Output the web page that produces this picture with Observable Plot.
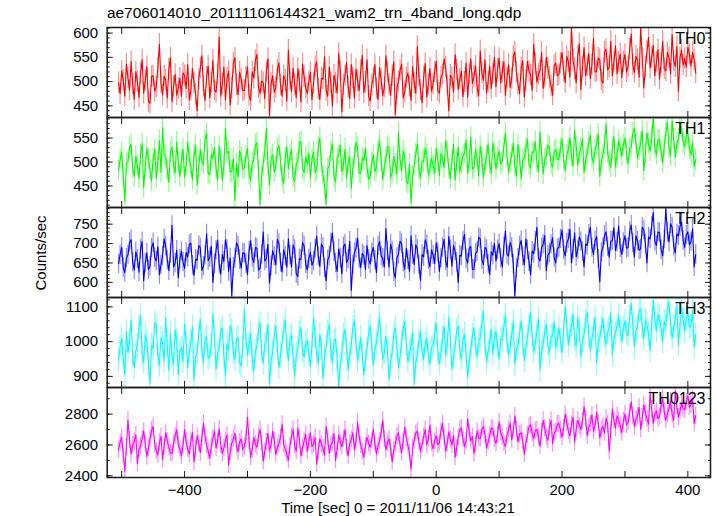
<!DOCTYPE html>
<html><head><meta charset="utf-8">
<script src="https://cdn.jsdelivr.net/npm/d3@7"></script>
<script src="https://cdn.jsdelivr.net/npm/@observablehq/plot@0.6"></script>
<style>
body{margin:0;background:#fff;}
#chart{position:relative;width:717px;height:516px;font-family:"Liberation Sans",Arial,sans-serif;color:#000;overflow:hidden;}
#chart svg{position:absolute;left:0;overflow:visible;}
#title{position:absolute;left:107px;top:4px;font-size:15.4px;white-space:nowrap;}
#ylab{position:absolute;left:40px;top:253px;font-size:15px;white-space:nowrap;transform:translate(-50%,-50%) rotate(-90deg);}
#xlab{position:absolute;left:398px;top:499px;font-size:15px;white-space:nowrap;transform:translateX(-50%);}
</style></head>
<body>
<div id="chart">
<div id="title"></div>
<div id="ylab"></div>
<div id="xlab"></div>
</div>
<script>
// ---- data (time bins: tStart + index * tStep seconds) ----
const tStart = -505, tStep = 2.5;
const th0 = [
498,475,522,503,470,536,508,482,541,495,463,520,500,468,517,545,476,502,531,459,455,510,512,480,489,528,577,497,472,511,503,466,526,549,458,490,515,472,486,507,
470,518,512,486,535,462,482,527,497,474,440,505,528,553,490,461,509,532,466,498,544,483,478,515,592,470,495,530,462,507,521,452,487,538,549,494,473,519,505,481,
482,509,530,471,461,520,507,543,556,488,476,501,498,465,521,547,430,496,512,478,488,524,538,493,470,512,503,460,565,505,479,528,494,467,527,501,458,536,510,487,
475,500,519,462,496,531,541,485,463,507,505,551,482,470,530,498,450,513,497,476,558,520,438,493,512,539,489,465,535,508,466,526,501,481,523,554,477,499,545,470,
460,493,508,535,486,463,529,504,471,488,553,519,494,472,512,541,432,485,500,523,536,467,479,508,518,490,461,531,497,476,572,512,483,456,509,537,468,495,527,480,
495,520,542,481,476,509,515,547,530,492,440,513,508,478,556,524,484,505,521,469,499,538,468,516,547,496,511,532,488,471,563,518,503,545,476,499,532,486,517,550,
489,526,548,497,520,541,472,508,535,488,506,552,561,519,495,475,528,543,468,503,542,521,514,482,577,536,499,515,523,560,486,509,550,527,509,491,472,533,538,512,
515,538,560,521,498,552,541,509,611,544,526,497,553,578,484,530,570,512,532,558,506,535,589,520,521,549,545,503,497,561,566,524,530,583,512,541,574,516,540,557,
508,541,556,520,531,567,598,535,519,552,545,509,611,548,487,530,562,591,528,550,575,512,540,566,505,538,583,527,522,560,550,516,597,543,531,572,480,549,565,534,
548,530,571,556,532,560,545,518];
const th1 = [
482,505,520,471,418,496,501,530,537,488,470,512,493,465,515,539,447,490,528,507,484,460,506,526,466,499,545,478,572,514,512,483,458,520,531,495,477,542,498,470,
503,527,468,494,541,509,489,463,512,535,452,488,526,501,495,547,560,476,474,515,508,530,487,462,533,505,461,492,570,518,522,479,480,508,420,496,469,523,510,485,
488,512,529,475,463,498,505,536,540,483,412,470,497,521,570,493,452,508,515,479,490,527,534,501,470,455,508,532,486,514,525,468,459,497,501,540,543,486,478,510,
496,519,467,505,521,478,484,532,550,497,472,451,412,486,491,523,538,470,458,507,514,535,480,493,527,466,499,511,445,489,512,541,531,477,476,509,503,528,488,464,
470,497,515,480,489,526,544,501,463,490,507,533,530,468,478,512,496,475,562,504,482,523,509,459,455,496,415,470,492,517,538,486,467,502,501,529,515,473,485,508,
494,476,528,505,472,517,510,488,545,522,486,465,503,537,462,499,531,480,497,513,519,546,476,502,552,485,489,526,507,471,534,509,468,494,512,538,496,477,540,515,
485,509,523,496,501,532,560,514,478,499,514,540,492,470,537,511,466,503,509,528,548,495,487,521,520,543,499,480,563,517,475,506,512,535,531,497,490,522,526,505,
505,529,548,507,482,515,526,551,511,492,567,532,493,518,530,548,478,504,519,541,556,510,498,527,535,559,470,501,515,536,580,520,502,489,527,553,489,516,545,528,
512,537,550,519,496,528,531,560,571,540,508,525,540,566,482,519,561,538,523,551,593,530,515,547,545,521,498,534,560,583,530,512,586,548,510,539,548,575,572,541,
532,555,560,528,515,540,490,505];
const th2 = [
648,671,690,638,625,662,671,703,710,652,632,679,660,626,685,705,604,650,676,633,641,689,702,664,655,692,620,645,668,712,693,657,630,674,747,640,650,683,612,660,
680,652,636,677,665,698,701,644,618,660,657,695,689,631,642,670,725,656,664,693,600,648,683,709,646,621,672,654,710,686,628,663,566,640,661,702,694,659,637,676,
675,649,620,681,708,664,651,690,688,632,636,672,730,655,661,698,598,643,682,667,645,711,700,651,627,684,667,639,712,670,640,696,685,622,615,661,659,703,694,648,
632,661,678,644,655,687,719,667,641,699,690,637,604,658,668,702,727,679,650,628,686,663,622,692,699,651,660,706,580,645,677,688,714,661,638,674,669,633,695,659,
648,676,690,657,625,694,705,668,662,640,739,681,640,699,681,627,612,664,672,706,700,652,634,688,658,628,720,671,646,697,686,645,605,672,666,710,697,658,640,684,
671,648,702,677,628,663,690,711,655,639,718,684,642,695,680,652,600,670,668,707,724,661,650,688,692,634,633,675,679,716,712,658,646,690,685,647,620,679,670,701,
655,684,700,662,640,691,732,672,668,703,690,647,566,636,662,694,708,668,645,712,684,653,620,681,674,706,742,662,655,689,698,721,630,670,676,698,715,664,650,687,
690,712,735,684,668,701,712,737,650,686,728,666,684,717,705,680,640,699,695,724,742,690,672,708,718,660,601,677,690,721,730,692,665,706,708,741,682,703,745,689,
672,703,720,688,690,731,748,702,665,720,706,683,686,742,735,699,650,717,712,745,780,706,695,730,728,684,668,712,790,729,704,751,742,693,676,725,720,744,755,708,
690,722,730,697,705,738,640,672];
const th3 = [
945,985,1010,952,905,1028,968,1001,1062,958,925,973,990,1040,1075,965,940,1018,1002,937,880,990,978,1055,1048,960,932,1011,995,944,1070,986,918,1024,960,935,1035,1002,905,970,
982,943,1050,996,925,970,1000,1043,890,956,968,1021,1065,982,938,1004,1015,951,958,990,1080,1012,920,967,985,1030,1040,958,902,994,975,1047,1030,966,948,1005,1012,940,930,985,
1094,1008,960,993,1025,949,915,972,988,1036,1055,970,938,992,1005,1050,878,947,970,1014,1045,980,925,961,996,1033,1062,985,946,1008,1018,956,900,962,975,1027,1040,973,955,998,
1002,960,930,989,1068,1012,962,938,1020,983,895,957,985,1029,1050,972,940,1000,1008,951,872,936,965,1018,1035,980,918,962,990,1041,1060,997,945,973,1012,958,905,948,978,1026,
1045,987,932,975,998,1030,1072,1002,950,968,1015,978,890,943,968,1021,1040,983,925,956,1000,1037,1058,992,942,970,985,1028,878,940,962,1003,1030,975,948,996,1010,961,935,982,
990,1020,1055,973,935,968,1008,1045,960,991,1070,1006,920,957,985,1032,1045,976,950,1003,1022,962,898,945,975,1019,1040,987,958,1001,1012,1052,1088,994,940,972,998,1036,965,1010,
1030,986,950,1008,1005,1043,1075,999,962,984,1020,1057,935,976,990,1022,1060,1005,945,983,1012,1049,1085,1011,970,995,1030,1066,918,972,995,1028,1050,990,965,1015,1018,1058,982,1004,
1040,1002,968,1030,1100,1046,990,1021,1045,1078,1005,985,1070,1032,955,1003,1020,1061,1085,1017,975,1008,1035,1070,940,996,1010,1042,1068,1015,992,1025,1040,1082,960,1011,1025,1047,1075,1030,
1000,1038,1060,1025,1018,1072,1110,1050,985,1033,1045,1088,1095,1040,1008,1062,1050,1021,975,1047,1120,1066,1030,1078,1070,1035,1000,1058,1045,1096,1115,1052,1010,1041,1065,1107,990,1044,1100,1063,
1030,1068,1085,1040,1045,1090,985,1020];
const th0123 = [
2570,2615,2650,2540,2430,2585,2760,2630,2540,2600,2620,2665,2480,2570,2595,2640,2690,2610,2525,2580,2640,2695,2720,2605,2560,2535,2615,2655,2505,2590,2680,2625,2585,2550,2545,2610,2660,2700,2600,2575,
2530,2595,2700,2620,2575,2540,2625,2680,2490,2575,2660,2610,2550,2645,2740,2655,2600,2560,2515,2590,2645,2690,2580,2625,2705,2600,2545,2580,2630,2665,2470,2555,2610,2640,2675,2595,2555,2620,2640,2570,
2590,2640,2780,2625,2520,2570,2650,2605,2585,2660,2700,2615,2495,2560,2620,2675,2565,2600,2690,2630,2540,2585,2610,2650,2735,2605,2575,2540,2500,2595,2655,2700,2595,2560,2710,2635,2530,2580,2625,2670,
2560,2620,2680,2590,2605,2650,2475,2560,2640,2605,2580,2535,2720,2645,2545,2600,2615,2675,2500,2570,2665,2615,2590,2640,2700,2585,2530,2610,2635,2680,2570,2625,2745,2655,2600,2560,2520,2595,2650,2610,
2585,2630,2700,2610,2540,2595,2625,2680,2760,2640,2570,2615,2640,2580,2490,2565,2610,2655,2680,2600,2550,2625,2715,2645,2595,2550,2445,2580,2630,2675,2690,2620,2560,2600,2655,2700,2600,2640,2730,2615,
2575,2625,2660,2600,2615,2690,2740,2650,2560,2610,2685,2635,2600,2660,2520,2580,2650,2700,2710,2640,2590,2625,2770,2680,2625,2655,2545,2605,2690,2645,2640,2700,2720,2665,2580,2620,2660,2710,2705,2640,
2610,2665,2750,2680,2650,2615,2590,2660,2700,2740,2635,2690,2790,2700,2620,2670,2680,2625,2540,2610,2665,2720,2730,2675,2640,2695,2700,2650,2590,2685,2760,2710,2655,2630,2715,2760,2610,2680,2690,2735,
2740,2695,2650,2710,2800,2745,2690,2660,2735,2780,2620,2700,2760,2725,2700,2755,2850,2770,2660,2715,2740,2795,2690,2730,2810,2745,2645,2700,2720,2680,2775,2735,2560,2690,2830,2760,2710,2790,2760,2725,
2680,2755,2800,2730,2745,2810,2880,2790,2720,2765,2790,2845,2700,2780,2860,2805,2770,2735,2930,2830,2740,2800,2820,2770,2785,2855,2900,2815,2760,2800,2840,2885,2800,2760,2950,2850,2780,2820,2870,2835,
2830,2880,2920,2845,2860,2900,2740,2790];
const series = [th0, th1, th2, th3, th0123];
const panelNames = ["TH0", "TH1", "TH2", "TH3", "TH0123"];
const errors = [22, 22, 25, 34, 55];
const colors = ["#ff0000", "#00ff00", "#0000ff", "#00ffff", "#ff00ff"];
const yDomains = [[426, 611.5], [405, 593], [561, 793], [868, 1127], [2389, 2973]];
const yMajorTicks = [[450, 500, 550, 600], [450, 500, 550], [600, 650, 700, 750], [900, 1000, 1100], [2400, 2600, 2800]];
const yMinorStep = [10, 10, 10, 20, 100];
const xDomain = [-523, 436];
const xTickValues = [-500, -400, -300, -200, -100, 0, 100, 200, 300, 400];
const xTickLabels = [-400, -200, 0, 200, 400];
const titleText = "ae706014010_20111106144321_wam2_trn_4band_long.qdp";
const yLabelText = "Counts/sec";
const xLabelText = "Time [sec] 0 = 2011/11/06 14:43:21";

// ---- layout ----
const chart = document.getElementById("chart");
document.getElementById("title").textContent = titleText;
document.getElementById("ylab").textContent = yLabelText;
document.getElementById("xlab").textContent = xLabelText;

const fmt = d => d < 0 ? "\u2212" + Math.abs(d) : String(d);
const panelTop0 = 26.7, panelH = 90;
const axisColor = "#1a1a1a";

series.forEach((vals, i) => {
  const err = errors[i];
  const data = vals.map((v, j) => ({t: tStart + j * tStep, v, lo: v - err, hi: v + err}));
  const last = i === series.length - 1;
  const mt = 12, mb = last ? 40 : 12;
  const [y0, y1] = yDomains[i];
  const minor = d3.range(Math.ceil(y0 / yMinorStep[i]) * yMinorStep[i], y1, yMinorStep[i]);
  const marks = [
    Plot.ruleX(data, {x: "t", y1: "lo", y2: "hi", stroke: colors[i], strokeOpacity: 0.45, strokeWidth: 1.2, clip: true}),
    Plot.line(data, {x: "t", y: "v", stroke: colors[i], strokeWidth: 1.1, clip: true}),
    // inward ticks, all four sides
    Plot.axisY({anchor: "left", ticks: yMajorTicks[i], tickSize: -6, fill: "none", stroke: axisColor, label: null}),
    Plot.axisY({anchor: "left", ticks: minor, tickSize: -3, fill: "none", stroke: axisColor, label: null}),
    Plot.axisY({anchor: "right", ticks: yMajorTicks[i], tickSize: -6, fill: "none", stroke: axisColor, label: null}),
    Plot.axisY({anchor: "right", ticks: minor, tickSize: -3, fill: "none", stroke: axisColor, label: null}),
    Plot.axisX({anchor: "bottom", ticks: xTickValues, tickSize: -6, fill: "none", stroke: axisColor, label: null}),
    Plot.axisX({anchor: "top", ticks: xTickValues, tickSize: -6, fill: "none", stroke: axisColor, label: null}),
    Plot.axisY({anchor: "left", ticks: yMajorTicks[i], tickSize: 0, tickPadding: 9, label: null, tickFormat: fmt, fill: "#000"}),
    Plot.frame({stroke: axisColor, strokeWidth: 1.5}),
    Plot.text([panelNames[i]], {text: d => d, frameAnchor: "top-right", dx: -5, dy: 5, textAnchor: "end", lineAnchor: "top", fontSize: 16, fill: "#000"})
  ];
  if (last) {
    marks.push(Plot.axisX({anchor: "bottom", ticks: xTickLabels, tickSize: 0, tickPadding: 7, label: null, tickFormat: fmt, fill: "#000"}));
  }
  const svg = Plot.plot({
    width: 717,
    height: panelH + mt + mb,
    marginLeft: 106.7, marginRight: 7, marginTop: mt, marginBottom: mb,
    x: {domain: xDomain},
    y: {domain: yDomains[i]},
    style: {fontFamily: '"Liberation Sans", Arial, sans-serif', fontSize: "15px", background: "transparent", color: "#000"},
    marks
  });
  svg.style.top = (panelTop0 + panelH * i - mt) + "px";
  chart.appendChild(svg);
});
</script>
</body></html>
